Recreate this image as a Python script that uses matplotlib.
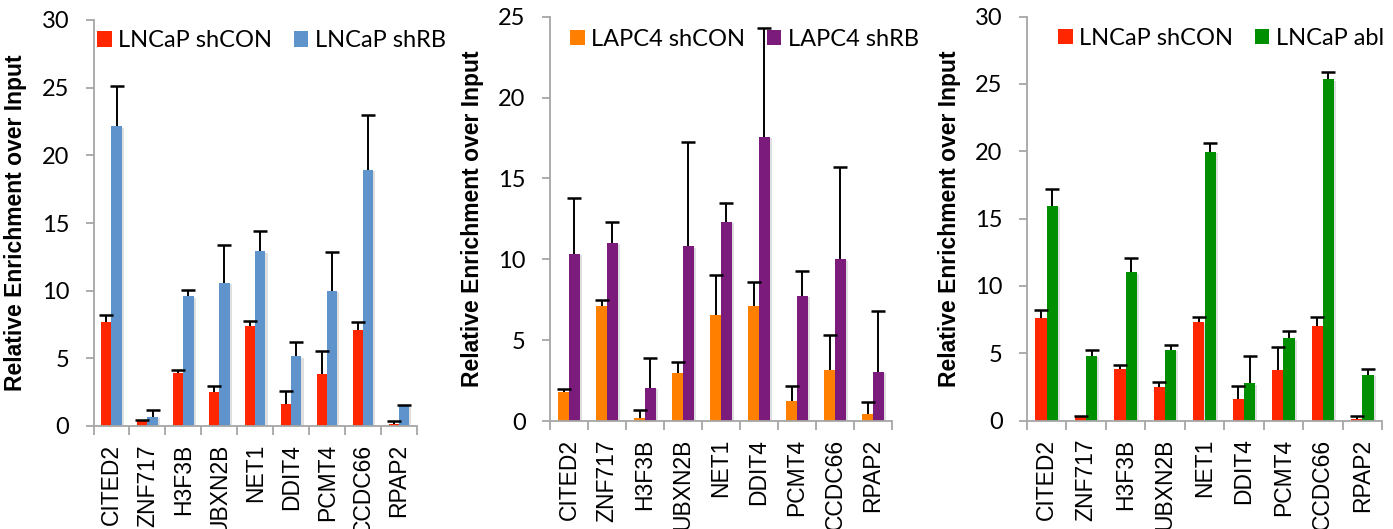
import numpy as np
import matplotlib
matplotlib.use("Agg")
import matplotlib.pyplot as plt
from matplotlib.patches import Patch
import matplotlib.patheffects as pe

genes = ["CITED2", "ZNF717", "H3F3B", "UBXN2B", "NET1", "DDIT4", "PCMT4", "CCDC66", "RPAP2"]

# Panel 1: LNCaP shCON vs shRB
p1_con = [7.68, 0.37, 3.89, 2.52, 7.38, 1.65, 3.82, 7.06, 0.12]
p1_con_err = [0.50, 0.05, 0.25, 0.42, 0.35, 0.94, 1.69, 0.65, 0.23]
p1_rb = [22.14, 0.70, 9.58, 10.57, 12.92, 5.16, 10.00, 18.95, 1.50]
p1_rb_err = [2.97, 0.47, 0.44, 2.80, 1.47, 1.02, 2.87, 4.02, 0.02]

# Panel 2: LAPC4 shCON vs shRB
p2_con = [1.77, 7.11, 0.17, 2.97, 6.57, 7.11, 1.25, 3.18, 0.46]
p2_con_err = [0.20, 0.35, 0.49, 0.65, 2.43, 1.51, 0.89, 2.16, 0.72]
p2_rb = [10.33, 11.03, 2.06, 10.81, 12.32, 17.58, 7.75, 10.00, 3.05]
p2_rb_err = [3.45, 1.29, 1.85, 6.42, 1.19, 6.75, 1.50, 5.73, 3.75]

# Panel 3: LNCaP shCON vs LNCaP abl
p3_con = [7.64, 0.32, 3.82, 2.50, 7.31, 1.57, 3.77, 7.01, 0.12]
p3_con_err = [0.55, 0.03, 0.30, 0.37, 0.35, 0.98, 1.70, 0.65, 0.18]
p3_abl = [15.95, 4.82, 11.00, 5.27, 19.94, 2.75, 6.09, 25.33, 3.39]
p3_abl_err = [1.25, 0.40, 1.10, 0.37, 0.67, 2.07, 0.52, 0.57, 0.43]

RED = "#FF2600"
BLUE = "#5F93CB"
ORANGE = "#FF8000"
PURPLE = "#7B1C7C"
GREEN = "#008F00"
AXGRAY = "#A6A6A6"

W, H = 1393, 529
fig = plt.figure(figsize=(W / 100, H / 100), dpi=100)

panels = [
    dict(rect=(93.5, 20.0, 417.0, 426.0), ymax=30, a=p1_con, ae=p1_con_err, b=p1_rb, be=p1_rb_err,
         ca=RED, cb=BLUE, la="LNCaP shCON", lb="LNCaP shRB", leg=(97, 40.8), ylx=-0.205),
    dict(rect=(550.0, 16.7, 892.0, 421.0), ymax=25, a=p2_con, ae=p2_con_err, b=p2_rb, be=p2_rb_err,
         ca=ORANGE, cb=PURPLE, la="LAPC4 shCON", lb="LAPC4 shRB", leg=(570, 39.6), ylx=-0.192),
    dict(rect=(1027.0, 16.5, 1382.0, 420.5), ymax=30, a=p3_con, ae=p3_con_err, b=p3_abl, be=p3_abl_err,
         ca=RED, cb=GREEN, la="LNCaP shCON", lb="LNCaP abl", leg=(1058, 38.6), ylx=-0.186),
]

x = np.arange(len(genes))
bw = 0.285
shadow = [pe.SimplePatchShadow(offset=(1.5, -1.0), shadow_rgbFace="#808080", alpha=0.25), pe.Normal()]


def upper_errorbar(ax, xs, vals, errs):
    eb = ax.errorbar(xs, vals, yerr=[np.zeros(len(vals)), errs], fmt="none", ecolor="black",
                     elinewidth=1.4, capsize=5.0, capthick=1.8, zorder=3)
    caps = eb.lines[1]
    if len(caps) > 1:
        caps[0].set_visible(False)  # hide cap at the bar top (lower side)


for p in panels:
    x0, y0, x1, y1 = p["rect"]
    ax = fig.add_axes([x0 / W, 1 - y1 / H, (x1 - x0) / W, (y1 - y0) / H])
    n = len(genes)
    ax.bar(x - bw / 2, p["a"], bw, color=p["ca"], path_effects=shadow, zorder=2)
    ax.bar(x + bw / 2, p["b"], bw, color=p["cb"], path_effects=shadow, zorder=2)
    upper_errorbar(ax, x - bw / 2, p["a"], p["ae"])
    upper_errorbar(ax, x + bw / 2, p["b"], p["be"])
    ax.set_xlim(-0.5, n - 0.5)
    ax.set_ylim(0, p["ymax"])
    ax.set_yticks(np.arange(0, p["ymax"] + 1, 5))
    ax.tick_params(axis="y", direction="out", length=6, width=1.3, color=AXGRAY, pad=11.5,
                   labelsize=17)
    for lab in ax.get_yticklabels():
        lab.set_fontfamily("Lato")
    # category boundaries as major ticks, names at minor ticks
    ax.set_xticks(np.arange(-0.5, n, 1.0))
    ax.set_xticklabels([])
    ax.set_xticks(x, minor=True)
    ax.set_xticklabels(genes, minor=True, rotation=90, fontsize=16.5,
                       fontfamily="Liberation Sans", va="top", ha="center")
    ax.tick_params(axis="x", which="major", direction="out", length=6.5, width=1.3, color=AXGRAY)
    ax.tick_params(axis="x", which="minor", length=0, pad=13)
    for s in ["top", "right"]:
        ax.spines[s].set_visible(False)
    for s in ["left", "bottom"]:
        ax.spines[s].set_color(AXGRAY)
        ax.spines[s].set_linewidth(1.3)
    ax.set_ylabel("Relative Enrichment over Input", fontsize=16.5, fontweight="bold",
                  fontfamily="Liberation Sans")
    ax.yaxis.set_label_coords(p["ylx"], 0.5)
    handles = [Patch(facecolor=p["ca"], edgecolor="none", label=p["la"]),
               Patch(facecolor=p["cb"], edgecolor="none", label=p["lb"])]
    lx, ly = p["leg"]
    ax.legend(handles=handles, ncol=2, loc="center left", bbox_to_anchor=(lx / W, 1 - ly / H),
              bbox_transform=fig.transFigure, frameon=False, borderpad=0, borderaxespad=0,
              handlelength=0.62, handleheight=0.62, handletextpad=0.28, columnspacing=0.9,
              prop=dict(family="Lato", size=17))

fig.savefig("out.png", dpi=100)
